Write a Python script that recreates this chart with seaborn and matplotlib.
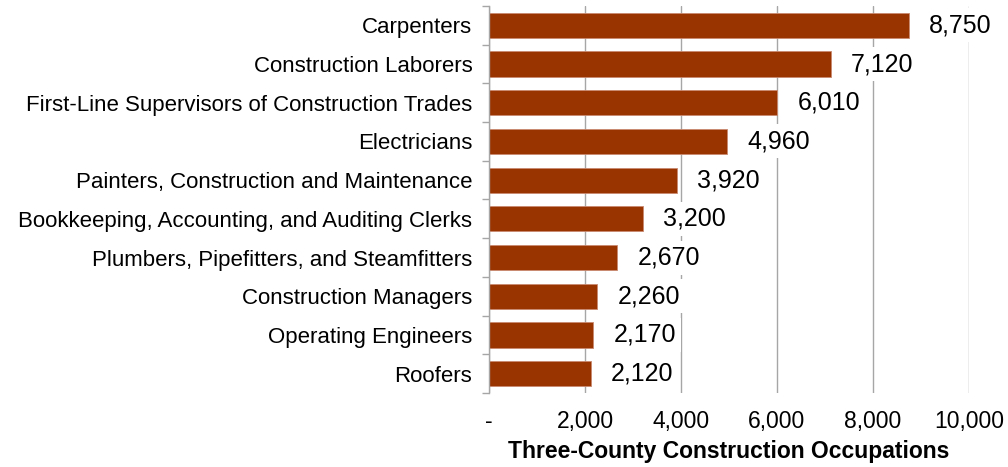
import matplotlib
matplotlib.use("Agg")
import matplotlib.pyplot as plt
import seaborn as sns
import pandas as pd
from matplotlib.ticker import FixedLocator, FuncFormatter

occupations = [
    "Carpenters",
    "Construction Laborers",
    "First-Line Supervisors of Construction Trades",
    "Electricians",
    "Painters, Construction and Maintenance",
    "Bookkeeping, Accounting, and Auditing Clerks",
    "Plumbers, Pipefitters, and Steamfitters",
    "Construction Managers",
    "Operating Engineers",
    "Roofers",
]
employment = [8750, 7120, 6010, 4960, 3920, 3200, 2670, 2260, 2170, 2120]
x_ticks = [0, 2000, 4000, 6000, 8000, 10000]
x_title = "Three-County Construction Occupations"

df = pd.DataFrame({"occupation": occupations, "employment": employment})

sns.set_theme(style="white")
plt.rcParams["font.family"] = ["Liberation Sans", "DejaVu Sans"]

bar_color = "#993300"
grid_color = "#a6a6a6"

fig = plt.figure(figsize=(10.08, 4.67), dpi=100)
ax = fig.add_axes([0.4851, 0.1585, 0.4762, 0.8287])

sns.barplot(data=df, x="employment", y="occupation", orient="h",
            color=bar_color, width=0.65, saturation=1,
            edgecolor="#c98a70", linewidth=0.6, ax=ax, zorder=3)

ax.set_xlim(0, 10000)
ax.set_ylim(len(occupations) - 0.5, -0.5)

# vertical gridlines
ax.xaxis.set_major_locator(FixedLocator(x_ticks))
ax.xaxis.set_major_formatter(FuncFormatter(lambda v, p: "-" if v == 0 else f"{v:,.0f}"))
ax.grid(axis="x", color=grid_color, linewidth=1.0, zorder=0)
ax.grid(axis="y", visible=False)
ax.set_axisbelow(True)

for side in ["top", "right", "bottom"]:
    ax.spines[side].set_visible(False)
ax.spines["left"].set_color(grid_color)
ax.spines["left"].set_linewidth(1.0)
ax.spines["left"].set_zorder(4)

# category separators as outward ticks on the y axis
ax.yaxis.set_minor_locator(FixedLocator([i - 0.5 for i in range(len(occupations) + 1)]))
ax.tick_params(axis="y", which="minor", length=5, width=1.0, color=grid_color, left=True, direction="out")
ax.tick_params(axis="y", which="major", length=0, pad=12, labelsize=16, labelcolor="black")
ax.tick_params(axis="x", which="major", length=0, pad=12, labelsize=16.5, labelcolor="black")

ax.set_ylabel("")
ax.set_xlabel(x_title, fontsize=16.5, fontweight="bold", color="black", labelpad=5)

# value labels on white boxes
for i, v in enumerate(employment):
    ax.annotate(f"{v:,}", xy=(v, i), xytext=(14.5, 0), textcoords="offset points",
                ha="left", va="center", fontsize=18, color="black",
                bbox=dict(boxstyle="square,pad=0.2", fc="white", ec="none"),
                zorder=5)

fig.savefig("out.png", dpi=100)
